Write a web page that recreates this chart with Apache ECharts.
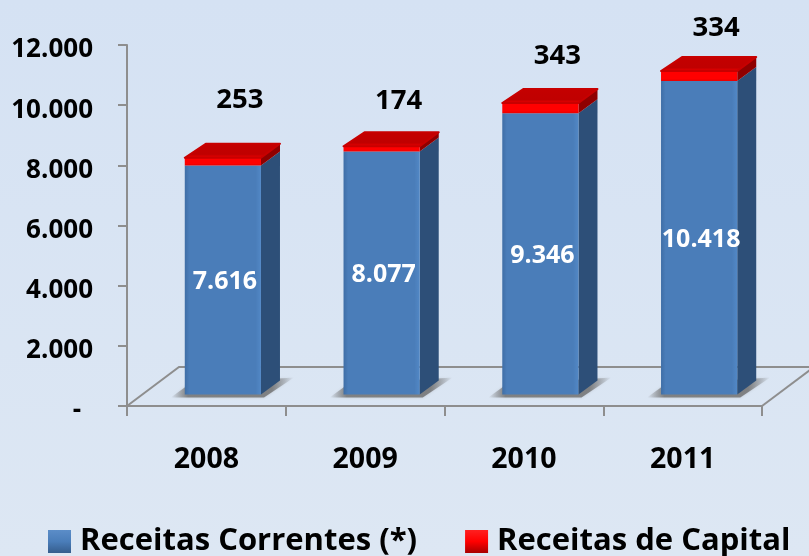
<!DOCTYPE html>
<html>
<head>
<meta charset="utf-8">
<title>Receitas</title>
<script src="https://cdn.jsdelivr.net/npm/echarts@6/dist/echarts.min.js"></script>
<style>
  html, body { margin: 0; padding: 0; }
  #chart { width: 809px; height: 556px; }
</style>
</head>
<body>
<div id="chart"></div>
<script>
var years = ['2008', '2009', '2010', '2011'];
var correntes = [7616, 8077, 9346, 10418];
var capital = [253, 174, 343, 334];
var yTicks = [0, 2000, 4000, 6000, 8000, 10000, 12000];

// how far above the bar top each red label sits in the picture
var capitalLift = [58, 45, 47, 43];

var FONT = '"Open Sans", sans-serif';
var SHIFT_X = 16.5, SHIFT_Y = -11.5;   // bars stand on the floor, not on the axis
var DEPTH_X = 19, DEPTH_Y = 14;
var BAR_RATIO = 0.48;

function fmt(v) {
  return String(v).replace(/\B(?=(\d{3})+$)/g, '.');
}

function hGrad(stops) {
  return new echarts.graphic.LinearGradient(0, 0, 1, 0, stops);
}

function vGrad(stops) {
  return new echarts.graphic.LinearGradient(0, 0, 0, 1, stops);
}

function box(x, y0, y1, w, front, side) {
  return [
    { type: 'polygon', shape: { points: [[x + w, y0], [x + w + DEPTH_X, y0 - DEPTH_Y], [x + w + DEPTH_X, y1 - DEPTH_Y], [x + w, y1]] }, style: { fill: side } },
    { type: 'rect', shape: { x: x, y: y1, width: w, height: y0 - y1 }, style: { fill: front } }
  ];
}

function renderFloor(params, api) {
  var g = params.coordSys;
  var b = g.y + g.height;
  var line = { stroke: '#8e8e8e', lineWidth: 2, fill: null };
  return {
    type: 'group',
    children: [
      { type: 'polyline', shape: { points: [[g.x, b], [g.x + 52, b - 39], [g.x + 700, b - 39]] }, style: line },
      { type: 'line', shape: { x1: g.x + g.width, y1: b, x2: g.x + g.width + 52, y2: b - 39 }, style: line }
    ]
  };
}

function renderCorrentes(params, api) {
  var i = params.dataIndex;
  var w = api.size([1, 0])[0] * BAR_RATIO;
  var top = api.coord([i, api.value(1)]);
  var base = api.coord([i, 0]);
  var x = top[0] + SHIFT_X - w / 2;
  var y0 = base[1] + SHIFT_Y;
  var y1 = top[1] + SHIFT_Y;
  var shadow = {
    type: 'polygon',
    shape: { points: [[x - 14, y0 + 3], [x + 4, y0 - 10], [x + w + DEPTH_X + 14, y0 - 17], [x + w + 3, y0 + 3]] },
    style: {
      fill: hGrad([
        { offset: 0, color: 'rgba(110,110,110,0)' },
        { offset: 0.14, color: 'rgba(110,110,110,0.8)' },
        { offset: 0.82, color: 'rgba(110,110,110,0.8)' },
        { offset: 1, color: 'rgba(110,110,110,0)' }
      ]),
      shadowBlur: 3, shadowColor: 'rgba(120,120,120,0.35)'
    }
  };
  var parts = box(x, y0, y1, w,
    hGrad([{ offset: 0, color: '#3f6ea6' }, { offset: 0.06, color: '#4a7db9' }, { offset: 0.93, color: '#4a7db9' }, { offset: 1, color: '#5288c6' }]),
    '#2d4f78');
  var label = {
    type: 'text',
    style: {
      x: x + w / 2 + 2, y: (y0 + y1) / 2 + 2,
      text: fmt(api.value(1)), fill: '#fff',
      font: 'bold 25px ' + FONT, align: 'center', verticalAlign: 'middle'
    }
  };
  return { type: 'group', children: [shadow].concat(parts, [label]) };
}

function renderCapital(params, api) {
  var i = params.dataIndex;
  var w = api.size([1, 0])[0] * BAR_RATIO;
  var low = api.coord([i, api.value(1)]);
  var high = api.coord([i, api.value(1) + api.value(2)]);
  var x = low[0] + SHIFT_X - w / 2;
  var y0 = low[1] + SHIFT_Y;
  var y1 = high[1] + SHIFT_Y;
  var parts = box(x, y0, y1, w, vGrad([{ offset: 0, color: '#ff0000' }, { offset: 0.75, color: '#ff0000' }, { offset: 1, color: '#e60000' }]), '#8f0000');
  var roof = {
    type: 'polygon',
    shape: { points: [[x, y1], [x + DEPTH_X + 2, y1 - DEPTH_Y], [x + w + DEPTH_X, y1 - DEPTH_Y], [x + w, y1]], smooth: 0 },
    style: {
      fill: vGrad([{ offset: 0, color: '#c40000' }, { offset: 0.72, color: '#c00000' }, { offset: 1, color: '#f40000' }]),
      stroke: '#c80000', lineWidth: 2, lineJoin: 'round'
    }
  };
  var label = {
    type: 'text',
    style: {
      x: x + w / 2 + 17, y: y1 - capitalLift[i],
      text: fmt(api.value(2)), fill: '#000',
      font: 'bold 27.5px ' + FONT, align: 'center', verticalAlign: 'middle'
    }
  };
  return { type: 'group', children: parts.concat([roof, label]) };
}

var myChart = echarts.init(document.getElementById('chart'));

var option = {
  animation: false,
  backgroundColor: new echarts.graphic.LinearGradient(0, 0, 0, 1, [
    { offset: 0, color: '#d5e2f3' },
    { offset: 1, color: '#dde7f3' }
  ]),
  grid: { left: 127, top: 45, width: 635, height: 361, containLabel: false },
  legend: {
    left: 48, top: 526, padding: 0,
    icon: 'rect',
    itemWidth: 23, itemHeight: 23, itemGap: 48,
    data: ['Receitas Correntes (*)', 'Receitas de Capital'],
    textStyle: { color: '#000', fontFamily: FONT, fontWeight: 'bold', fontSize: 31, padding: [0, 0, 0, 4] },
    selectedMode: false
  },
  xAxis: {
    type: 'category',
    data: years,
    axisLine: { lineStyle: { color: '#8e8e8e', width: 2 } },
    axisTick: { show: true, length: 10, lineStyle: { color: '#8e8e8e', width: 2 } },
    axisLabel: { color: '#000', fontFamily: FONT, fontWeight: 'bold', fontSize: 28.5, margin: 39 }
  },
  yAxis: {
    type: 'value',
    min: yTicks[0],
    max: yTicks[yTicks.length - 1],
    interval: 2000,
    splitLine: { show: false },
    axisLine: { show: true, lineStyle: { color: '#8e8e8e', width: 2 } },
    axisTick: { show: true, length: 9, lineStyle: { color: '#8e8e8e', width: 2 } },
    axisLabel: {
      color: '#000', fontFamily: FONT, fontWeight: 'bold', fontSize: 26, margin: 34,
      padding: [10, 0, 0, 0],
      formatter: function (v) { return v === 0 ? '{dash|-}' : fmt(v); },
      rich: { dash: { color: '#000', fontFamily: FONT, fontWeight: 'bold', fontSize: 26, padding: [0, 12, 0, 0] } }
    }
  },
  series: [
    {
      name: 'floor', type: 'custom', renderItem: renderFloor, data: [0], clip: false,
      encode: { x: 0, y: 0 }, silent: true
    },
    {
      name: 'Receitas Correntes (*)', type: 'custom', renderItem: renderCorrentes, clip: false,
      itemStyle: { color: new echarts.graphic.LinearGradient(0, 0, 0, 1, [
        { offset: 0, color: '#5b8dc8' }, { offset: 0.5, color: '#4a7db9' }, { offset: 1, color: '#355d8d' }
      ]) },
      encode: { x: 0, y: 1 },
      data: years.map(function (y, i) { return [i, correntes[i]]; })
    },
    {
      name: 'Receitas de Capital', type: 'custom', renderItem: renderCapital, clip: false,
      itemStyle: { color: new echarts.graphic.LinearGradient(0, 0, 0, 1, [
        { offset: 0, color: '#ff2020' }, { offset: 0.5, color: '#ff0000' }, { offset: 1, color: '#a80000' }
      ]) },
      encode: { x: 0, y: 1 },
      data: years.map(function (y, i) { return [i, correntes[i], capital[i]]; })
    }
  ]
};

myChart.setOption(option);
</script>
</body>
</html>
